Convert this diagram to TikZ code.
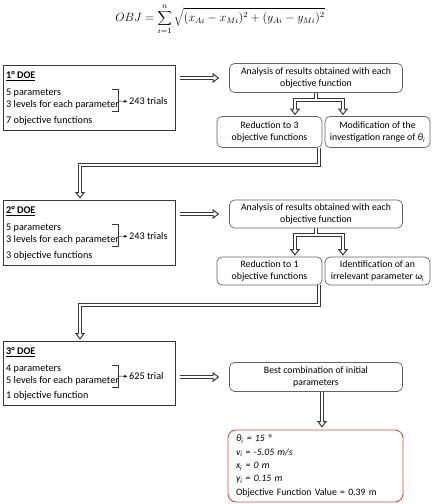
\documentclass[tikz,border=0pt]{standalone}
\usepackage{fontspec}
\setmainfont{Carlito}
\usetikzlibrary{arrows.meta,calc}
\definecolor{bord}{RGB}{100,100,100}
\definecolor{dark}{RGB}{55,55,55}
\definecolor{redb}{RGB}{205,80,65}
\begin{document}
\begin{tikzpicture}[x=1pt,y=-1pt,
  every node/.style={font=\fontsize{9.8}{12}\selectfont, inner sep=0pt},
  doebox/.style={draw=dark, line width=0.9pt, minimum width=172pt, minimum height=65pt},
  rbox/.style={draw=bord, line width=0.7pt, rounded corners=5pt, align=center, minimum width=173pt, minimum height=29pt},
  sbox/.style={rbox, minimum width=105pt, minimum height=31pt},
  txt/.style={anchor=west, text height=7pt, text depth=2pt, font=\fontsize{10.2}{12}\selectfont},
  tipa/.tip={Triangle[length=6.5pt,width=10pt,fill=white,line width=1pt]},
  hol/.style={draw=dark, line width=4pt, postaction={draw=white, line width=2pt, -, shorten >=0pt}},
  holtip/.style={draw=dark, line width=4pt, -tipa, postaction={draw=white, line width=2pt, -, shorten >=5pt}},
  holtwo/.style={draw=dark, line width=4pt, tipa-tipa, postaction={draw=white, line width=2pt, -, shorten >=5pt, shorten <=5pt}},
  brk/.style={draw=dark, line width=0.6pt},
  smallarr/.style={draw=black, line width=0.5pt, shorten >=2pt, -{Stealth[length=3pt,width=3pt]}}
]
\useasboundingbox (0,0) rectangle (440,504);

% formula
\node[font=\fontsize{11.5}{13}\selectfont] (obj) at (220,19) {$\displaystyle OBJ=\sum_{i=1}^{n}\sqrt{(x_{Ai}-x_{Mi})^2+(y_{Ai}-y_{Mi})^2}$};

% ---------- DOE 1 ----------
\node[doebox] (doe1) at (89,97.5) {};
\node[txt] (h1) at (6,76) {\underline{\textbf{1° DOE}}};
\node[txt] (p1) at (6,93) {5 parameters};
\node[txt] (l1) at (6,105) {3 levels for each parameter};
\node[txt] (o1) at (6,121) {7 objective functions};
\draw[brk] (112,89) -- (118,89) -- (118,111) -- (112,111);
\coordinate (b1) at (118,101);
\node[txt] (t1) at (129,101.5) {243 trials};
\draw[smallarr] (b1) -- (t1.west);

\node[rbox] (an1) at (316,78) {Analysis of results obtained with each\\objective function};
\node[sbox] (red1) at (269.5,132) {Reduction to 3\\objective functions};
\node[sbox] (mod1) at (377.5,132) {Modification of the\\investigation range of \textit{θ\textsubscript{i}}};

% ---------- DOE 2 ----------
\node[doebox] (doe2) at (89,232.5) {};
\node[txt] (h2) at (6,211) {\underline{\textbf{2° DOE}}};
\node[txt] (p2) at (6,228) {5 parameters};
\node[txt] (l2) at (6,240) {3 levels for each parameter};
\node[txt] (o2) at (6,256) {3 objective functions};
\draw[brk] (112,224) -- (118,224) -- (118,246) -- (112,246);
\coordinate (b2) at (118,236);
\node[txt] (t2) at (129,236.5) {243 trials};
\draw[smallarr] (b2) -- (t2.west);

\node[rbox, minimum height=28pt] (an2) at (316,214) {Analysis of results obtained with each\\objective function};
\node[sbox, minimum height=28pt] (red2) at (269.5,271) {Reduction to 1\\objective functions};
\node[sbox, minimum height=28pt] (id2) at (377.5,271) {Identification of an\\irrelevant parameter ω\textsubscript{i}};

% ---------- DOE 3 ----------
\node[doebox, minimum height=64pt] (doe3) at (89,373) {};
\node[txt] (h3) at (6,352) {\underline{\textbf{3° DOE}}};
\node[txt] (p3) at (6,369) {4 parameters};
\node[txt] (l3) at (6,381) {5 levels for each parameter};
\node[txt] (o3) at (6,396) {1 objective function};
\draw[brk] (112,365) -- (118,365) -- (118,387) -- (112,387);
\coordinate (b3) at (118,376);
\node[txt] (t3) at (129,376.5) {625 trial};
\draw[smallarr] (b3) -- (t3.west);

\node[rbox] (best) at (316,377) {Best combination of initial\\parameters};

\node[rbox, draw=redb, line width=0.9pt, rounded corners=8pt, text width=159pt, align=left, minimum height=72pt, inner xsep=8pt, font=\fontsize{9.8}{13.3}\selectfont] (res) at (315.5,466) {\textit{θ\textsubscript{i} = 15 °}\\\textit{v\textsubscript{i} = -5.05 m/s}\\\textit{x\textsubscript{i} = 0 m}\\\textit{y\textsubscript{i} = 0.15 m}\\Objective Function Value = 0.39 m};

% ---------- connectors ----------
\draw[holtip] ($(doe1.east |- an1.west)+(5,0)$) -- ($(an1.west)+(-10,0)$);
\coordinate (s1) at ($(an1.south)+(0,7.5)$);
\draw[holtwo] ($(red1.north)+(25.5,-1)$) |- (s1) -| ($(mod1.north)+(-34.5,-1)$);
\draw[hol] (an1.south) -- ($(s1)+(0,-1)$);
\draw[holtip] ($(red1.south east)+(-3,0)$) -- ++(0,17.5) -| ($(doe2.north)+(-9,-1)$);

\draw[holtip] ($(doe2.east |- an2.west)+(5,0)$) -- ($(an2.west)+(-10,0)$);
\coordinate (s2) at ($(an2.south)+(0,7)$);
\draw[holtwo] ($(red2.north)+(25.5,-1)$) |- (s2) -| ($(id2.north)+(-34.5,-1)$);
\draw[hol] (an2.south) -- ($(s2)+(0,-1)$);
\draw[holtip] ($(red2.south east)+(-3,0)$) -- ++(0,20) -| ($(doe3.north)+(-9,-1)$);

\draw[holtip] ($(doe3.east |- best.west)+(5,0)$) -- ($(best.west)+(-10,0)$);
\coordinate (c3) at ($(best.south)+(6,0)$);
\draw[holtip] (c3) -- ($(c3 |- res.north)+(0,-2)$);
\end{tikzpicture}
\end{document}
